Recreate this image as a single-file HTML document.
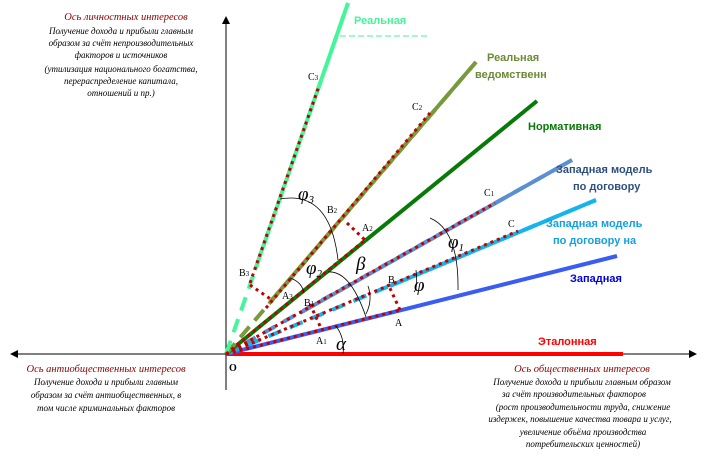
<!DOCTYPE html>
<html><head><meta charset="utf-8"><style>
html,body{margin:0;padding:0;background:#fff;width:706px;height:465px;overflow:hidden}
svg{display:block}
.it{font-family:"Liberation Serif",serif;font-style:italic;font-size:9px;fill:#000}
.ttl{font-family:"Liberation Serif",serif;font-style:italic;font-size:10.5px;fill:#8b0000}
.lb{font-family:"Liberation Sans",sans-serif;font-weight:bold;font-size:11px}
.pt{font-family:"Liberation Serif",serif;font-size:10px;fill:#000}
.gr{font-family:"Liberation Serif",serif;font-style:italic;font-size:19px;fill:#000}
.d{stroke:#c00000;stroke-width:3;stroke-dasharray:3 4;fill:none}
</style></head><body>
<svg width="706" height="465" viewBox="0 0 706 465" xmlns="http://www.w3.org/2000/svg">
<line x1="226" y1="20" x2="226" y2="390" stroke="#000" stroke-width="1"/>
<polygon points="226,16 222,24 230,24" fill="#000"/>
<line x1="14" y1="354" x2="693" y2="354" stroke="#000" stroke-width="1"/>
<polygon points="10,354 18,350 18,358" fill="#000"/>
<polygon points="697,354 689,350 689,358" fill="#000"/>
<line x1="226" y1="354" x2="623" y2="354" stroke="#f00" stroke-width="4"/>
<line x1="226" y1="354" x2="617" y2="256" stroke="#3a5cf0" stroke-width="4"/>
<line x1="226" y1="354" x2="596" y2="200" stroke="#14b4ee" stroke-width="4" stroke-dasharray="14 9"/>
<line x1="390" y1="286" x2="596" y2="200" stroke="#14b4ee" stroke-width="4"/>
<line x1="226" y1="354" x2="572" y2="160" stroke="#5b8fd4" stroke-width="4" stroke-dasharray="12 10"/>
<line x1="300" y1="313" x2="572" y2="160" stroke="#5b8fd4" stroke-width="4"/>
<line x1="226" y1="354" x2="537" y2="101" stroke="#087a08" stroke-width="4"/>
<line x1="226" y1="354" x2="476" y2="62" stroke="#789a3c" stroke-width="4" stroke-dasharray="14 8"/>
<line x1="270" y1="302" x2="476" y2="62" stroke="#789a3c" stroke-width="4"/>
<line x1="226" y1="354" x2="348" y2="3" stroke="#44f59a" stroke-width="4" stroke-dasharray="14 9"/>
<line x1="255" y1="270" x2="348" y2="3" stroke="#44f59a" stroke-width="4"/>
<line x1="340" y1="36" x2="428" y2="36" stroke="#44f59a" stroke-width="1" stroke-dasharray="6 3"/>
<line class="d" x1="226" y1="354" x2="400" y2="310"/>
<line class="d" x1="226" y1="354" x2="518" y2="231"/>
<line class="d" x1="226" y1="354" x2="495" y2="203"/>
<line class="d" x1="226" y1="354" x2="365" y2="240"/>
<line class="d" x1="266" y1="308" x2="430" y2="113"/>
<line class="d" x1="250" y1="283" x2="319" y2="86"/>
<line class="d" x1="400" y1="310" x2="388" y2="284"/>
<line class="d" x1="320" y1="326" x2="310" y2="304"/>
<line class="d" x1="250" y1="285" x2="272" y2="300"/>
<line class="d" x1="347" y1="223" x2="365" y2="240"/>
<g fill="none" stroke="#000" stroke-width="0.8">
<path d="M336,326 Q345,338 343,354"/>
<path d="M366,314 Q373,300 368,286"/>
<path d="M414,292 Q418,288 416,270"/>
<path d="M430,218 Q459,230 458,290"/>
<path d="M328,272 Q350,270 366,317"/>
<path d="M290,278 Q302,282 304,293"/>
<path d="M280,199 Q330,190 338,260"/>
</g>
<text class="gr" x="336" y="350">α</text>
<text class="gr" x="414" y="291">φ</text>
<text class="gr" x="448" y="248">φ<tspan font-size="11" dy="3">1</tspan></text>
<text class="gr" x="356" y="270">β</text>
<text class="gr" x="306" y="274">φ<tspan font-size="11" dy="3">2</tspan></text>
<text class="gr" x="298" y="200">φ<tspan font-size="11" dy="3">3</tspan></text>
<text class="pt" x="395" y="326">A</text>
<text class="pt" x="388" y="283">B</text>
<text class="pt" x="316" y="344">A<tspan font-size="7">1</tspan></text>
<text class="pt" x="304" y="306">B<tspan font-size="7">1</tspan></text>
<text class="pt" x="282" y="299">A<tspan font-size="7">3</tspan></text>
<text class="pt" x="239" y="276">B<tspan font-size="7">3</tspan></text>
<text class="pt" x="327" y="213">B<tspan font-size="7">2</tspan></text>
<text class="pt" x="362" y="231">A<tspan font-size="7">2</tspan></text>
<text class="pt" x="508" y="227">C</text>
<text class="pt" x="484" y="196">C<tspan font-size="7">1</tspan></text>
<text class="pt" x="412" y="110">C<tspan font-size="7">2</tspan></text>
<text class="pt" x="308" y="80">C<tspan font-size="7">3</tspan></text>
<text class="pt" x="229" y="371" font-weight="bold">O</text>
<text class="lb" x="354" y="24" fill="#44f59a">Реальная</text>
<text class="lb" x="487" y="61" fill="#6b8a35">Реальная</text>
<text class="lb" x="475" y="78" fill="#6b8a35">ведомственн</text>
<text class="lb" x="528" y="130" fill="#087a08">Нормативная</text>
<text class="lb" x="556" y="173" fill="#2d4f80">Западная модель</text>
<text class="lb" x="573" y="190" fill="#2d4f80">по договору</text>
<text class="lb" x="546" y="227" fill="#14a0e0">Западная модель</text>
<text class="lb" x="553" y="244" fill="#14a0e0">по договору на</text>
<text class="lb" x="570" y="282" fill="#0000e0">Западная</text>
<text class="lb" x="538" y="345" fill="#f00">Эталонная</text>
<g text-anchor="middle">
<text class="ttl" x="126" y="20">Ось личностных интересов</text>
<text class="it" x="121" y="34">Получение дохода и прибыли главным</text>
<text class="it" x="121" y="46">образом за счёт непроизводительных</text>
<text class="it" x="121" y="58">факторов и источников</text>
<text class="it" x="121" y="72">(утилизация национального богатства,</text>
<text class="it" x="121" y="84">перераспределение капитала,</text>
<text class="it" x="121" y="96">отношений и пр.)</text>
<text class="ttl" x="106" y="372">Ось антиобщественных интересов</text>
<text class="it" x="106" y="385">Получение дохода и прибыли главным</text>
<text class="it" x="106" y="398">образом за счёт антиобщественных, в</text>
<text class="it" x="106" y="411">том числе криминальных факторов</text>
<text class="ttl" x="582" y="372">Ось общественных интересов</text>
<text class="it" x="582" y="385">Получение дохода и прибыли главным образом</text>
<text class="it" x="574" y="397">за счёт производительных факторов</text>
<text class="it" x="583" y="410">(рост производительности труда, снижение</text>
<text class="it" x="580" y="422">издержек, повышение качества товара и услуг,</text>
<text class="it" x="583" y="435">увеличение объёма производства</text>
<text class="it" x="583" y="447">потребительских ценностей)</text>
</g>
</svg>
</body></html>
